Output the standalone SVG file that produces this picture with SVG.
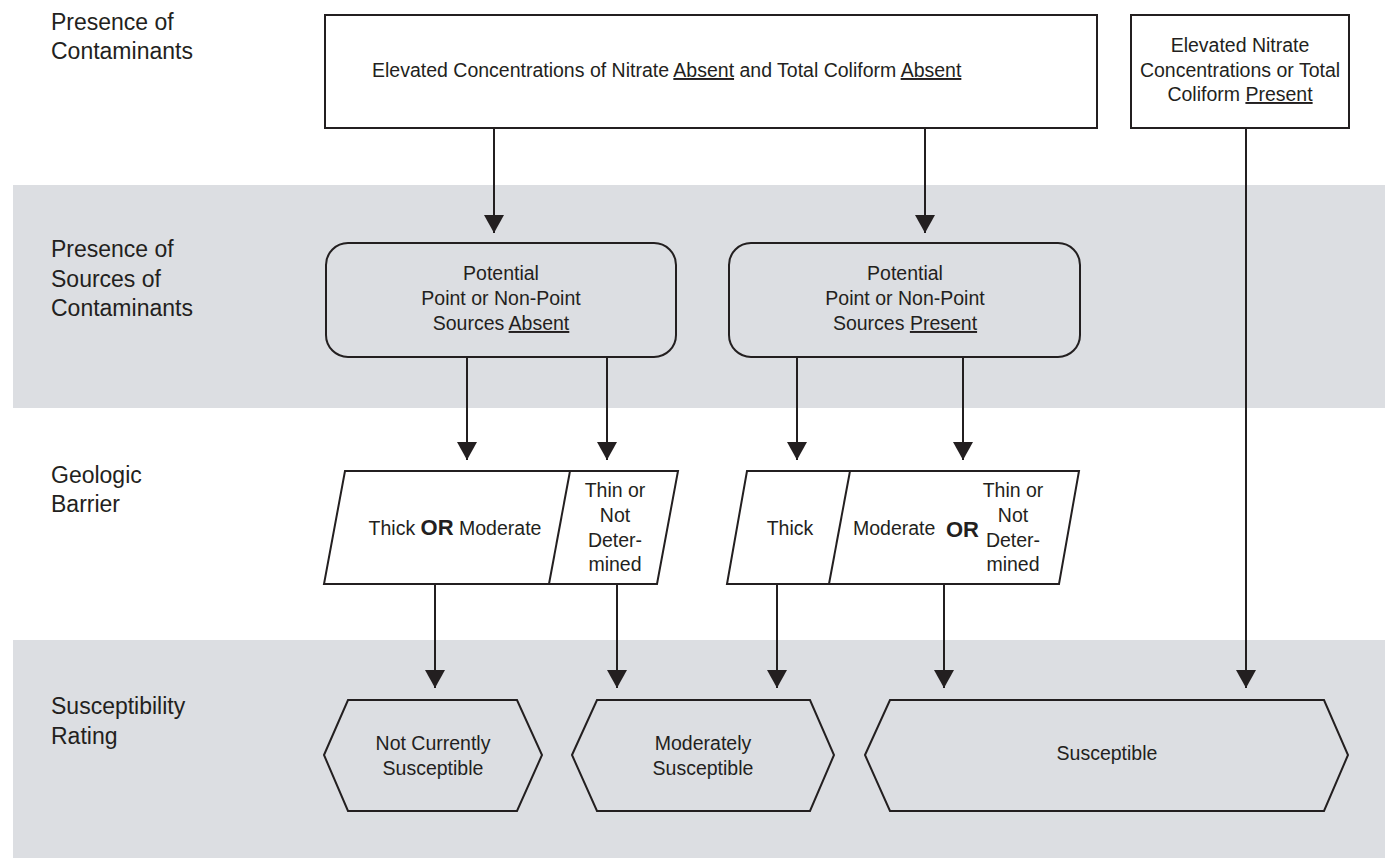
<svg xmlns="http://www.w3.org/2000/svg" width="1385" height="858" viewBox="0 0 1385 858">
<style>
text{font-family:"Liberation Sans",Arial,sans-serif;fill:#231f20}
.lbl{font-size:23px}
.t{font-size:19.5px}
.c{text-anchor:middle}
.or{font-weight:bold;font-size:22px}
.u{text-decoration:underline}
.band{fill:#dcdee2}
.box{fill:#ffffff;stroke:#231f20;stroke-width:2}
.gbox{fill:#dcdee2;stroke:#231f20;stroke-width:2}
.conn{fill:none;stroke:#231f20;stroke-width:2}
</style>
<defs>
<marker id="ah" markerUnits="userSpaceOnUse" markerWidth="22" markerHeight="20" refX="18" refY="10" orient="auto" viewBox="0 0 22 20">
<path d="M0,0 L18,10 L0,20 Z" fill="#231f20"/>
</marker>
</defs>
<g id="bands">
<rect class="band" x="13" y="185" width="1372" height="223"/>
<rect class="band" x="13" y="640" width="1372" height="218"/>
</g>
<g id="row-labels">
<text class="lbl" x="51" y="30">Presence of</text>
<text class="lbl" x="51" y="59">Contaminants</text>
<text class="lbl" x="51" y="257">Presence of</text>
<text class="lbl" x="51" y="287">Sources of</text>
<text class="lbl" x="51" y="316">Contaminants</text>
<text class="lbl" x="51" y="483">Geologic</text>
<text class="lbl" x="51" y="512">Barrier</text>
<text class="lbl" x="51" y="714">Susceptibility</text>
<text class="lbl" x="51" y="744">Rating</text>
</g>
<g id="connectors">
<path class="conn" marker-end="url(#ah)" d="M494,128 V233"/>
<path class="conn" marker-end="url(#ah)" d="M925,128 V233"/>
<path class="conn" marker-end="url(#ah)" d="M1246,128 V688"/>
<path class="conn" marker-end="url(#ah)" d="M467,357 V460"/>
<path class="conn" marker-end="url(#ah)" d="M607,357 V460"/>
<path class="conn" marker-end="url(#ah)" d="M797,357 V460"/>
<path class="conn" marker-end="url(#ah)" d="M963,357 V460"/>
<path class="conn" marker-end="url(#ah)" d="M435,584 V688"/>
<path class="conn" marker-end="url(#ah)" d="M617,584 V688"/>
<path class="conn" marker-end="url(#ah)" d="M777,584 V688"/>
<path class="conn" marker-end="url(#ah)" d="M944,584 V688"/>
</g>
<g id="contaminants-absent">
<rect class="box" x="325" y="15" width="772" height="113"/>
<text class="t" x="372" y="77">Elevated Concentrations of Nitrate <tspan class="u">Absent</tspan> and Total Coliform <tspan class="u">Absent</tspan></text>
</g>
<g id="contaminants-present">
<rect class="box" x="1131" y="15" width="218" height="113"/>
<text class="t c" x="1240" y="52">Elevated Nitrate</text>
<text class="t c" x="1240" y="77">Concentrations or Total</text>
<text class="t c" x="1240" y="101">Coliform <tspan class="u">Present</tspan></text>
</g>
<g id="sources-absent">
<rect class="gbox" x="326" y="243" width="350" height="114" rx="22" ry="22"/>
<text class="t c" x="501" y="280">Potential</text>
<text class="t c" x="501" y="305">Point or Non-Point</text>
<text class="t c" x="501" y="330">Sources <tspan class="u">Absent</tspan></text>
</g>
<g id="sources-present">
<rect class="gbox" x="729" y="243" width="351" height="114" rx="22" ry="22"/>
<text class="t c" x="905" y="280">Potential</text>
<text class="t c" x="905" y="305">Point or Non-Point</text>
<text class="t c" x="905" y="330">Sources <tspan class="u">Present</tspan></text>
</g>
<g id="barrier-absent">
<polygon class="box" points="345,471 678,471 657,584 324,584"/>
<line class="conn" x1="570" y1="471" x2="549" y2="584"/>
<text class="t c" x="455" y="535">Thick <tspan class="or">OR</tspan> Moderate</text>
<text class="t c" x="615" y="497">Thin or</text>
<text class="t c" x="615" y="522">Not</text>
<text class="t c" x="615" y="547">Deter-</text>
<text class="t c" x="615" y="571">mined</text>
</g>
<g id="barrier-present">
<polygon class="box" points="747,471 1079,471 1059,584 727,584"/>
<line class="conn" x1="850" y1="471" x2="829" y2="584"/>
<text class="t c" x="790" y="535">Thick</text>
<text class="t" x="853" y="535">Moderate</text>
<text class="or" x="946" y="537">OR</text>
<text class="t c" x="1013" y="497">Thin or</text>
<text class="t c" x="1013" y="522">Not</text>
<text class="t c" x="1013" y="547">Deter-</text>
<text class="t c" x="1013" y="571">mined</text>
</g>
<g id="not-currently-susceptible">
<polygon class="gbox" points="324,755 348,700 517,700 542,755 517,811 348,811"/>
<text class="t c" x="433" y="750">Not Currently</text>
<text class="t c" x="433" y="775">Susceptible</text>
</g>
<g id="moderately-susceptible">
<polygon class="gbox" points="572,755 597,700 810,700 834,755 810,811 597,811"/>
<text class="t c" x="703" y="750">Moderately</text>
<text class="t c" x="703" y="775">Susceptible</text>
</g>
<g id="susceptible">
<polygon class="gbox" points="865,755 890,700 1324,700 1348,755 1324,811 890,811"/>
<text class="t c" x="1107" y="760">Susceptible</text>
</g>
</svg>
